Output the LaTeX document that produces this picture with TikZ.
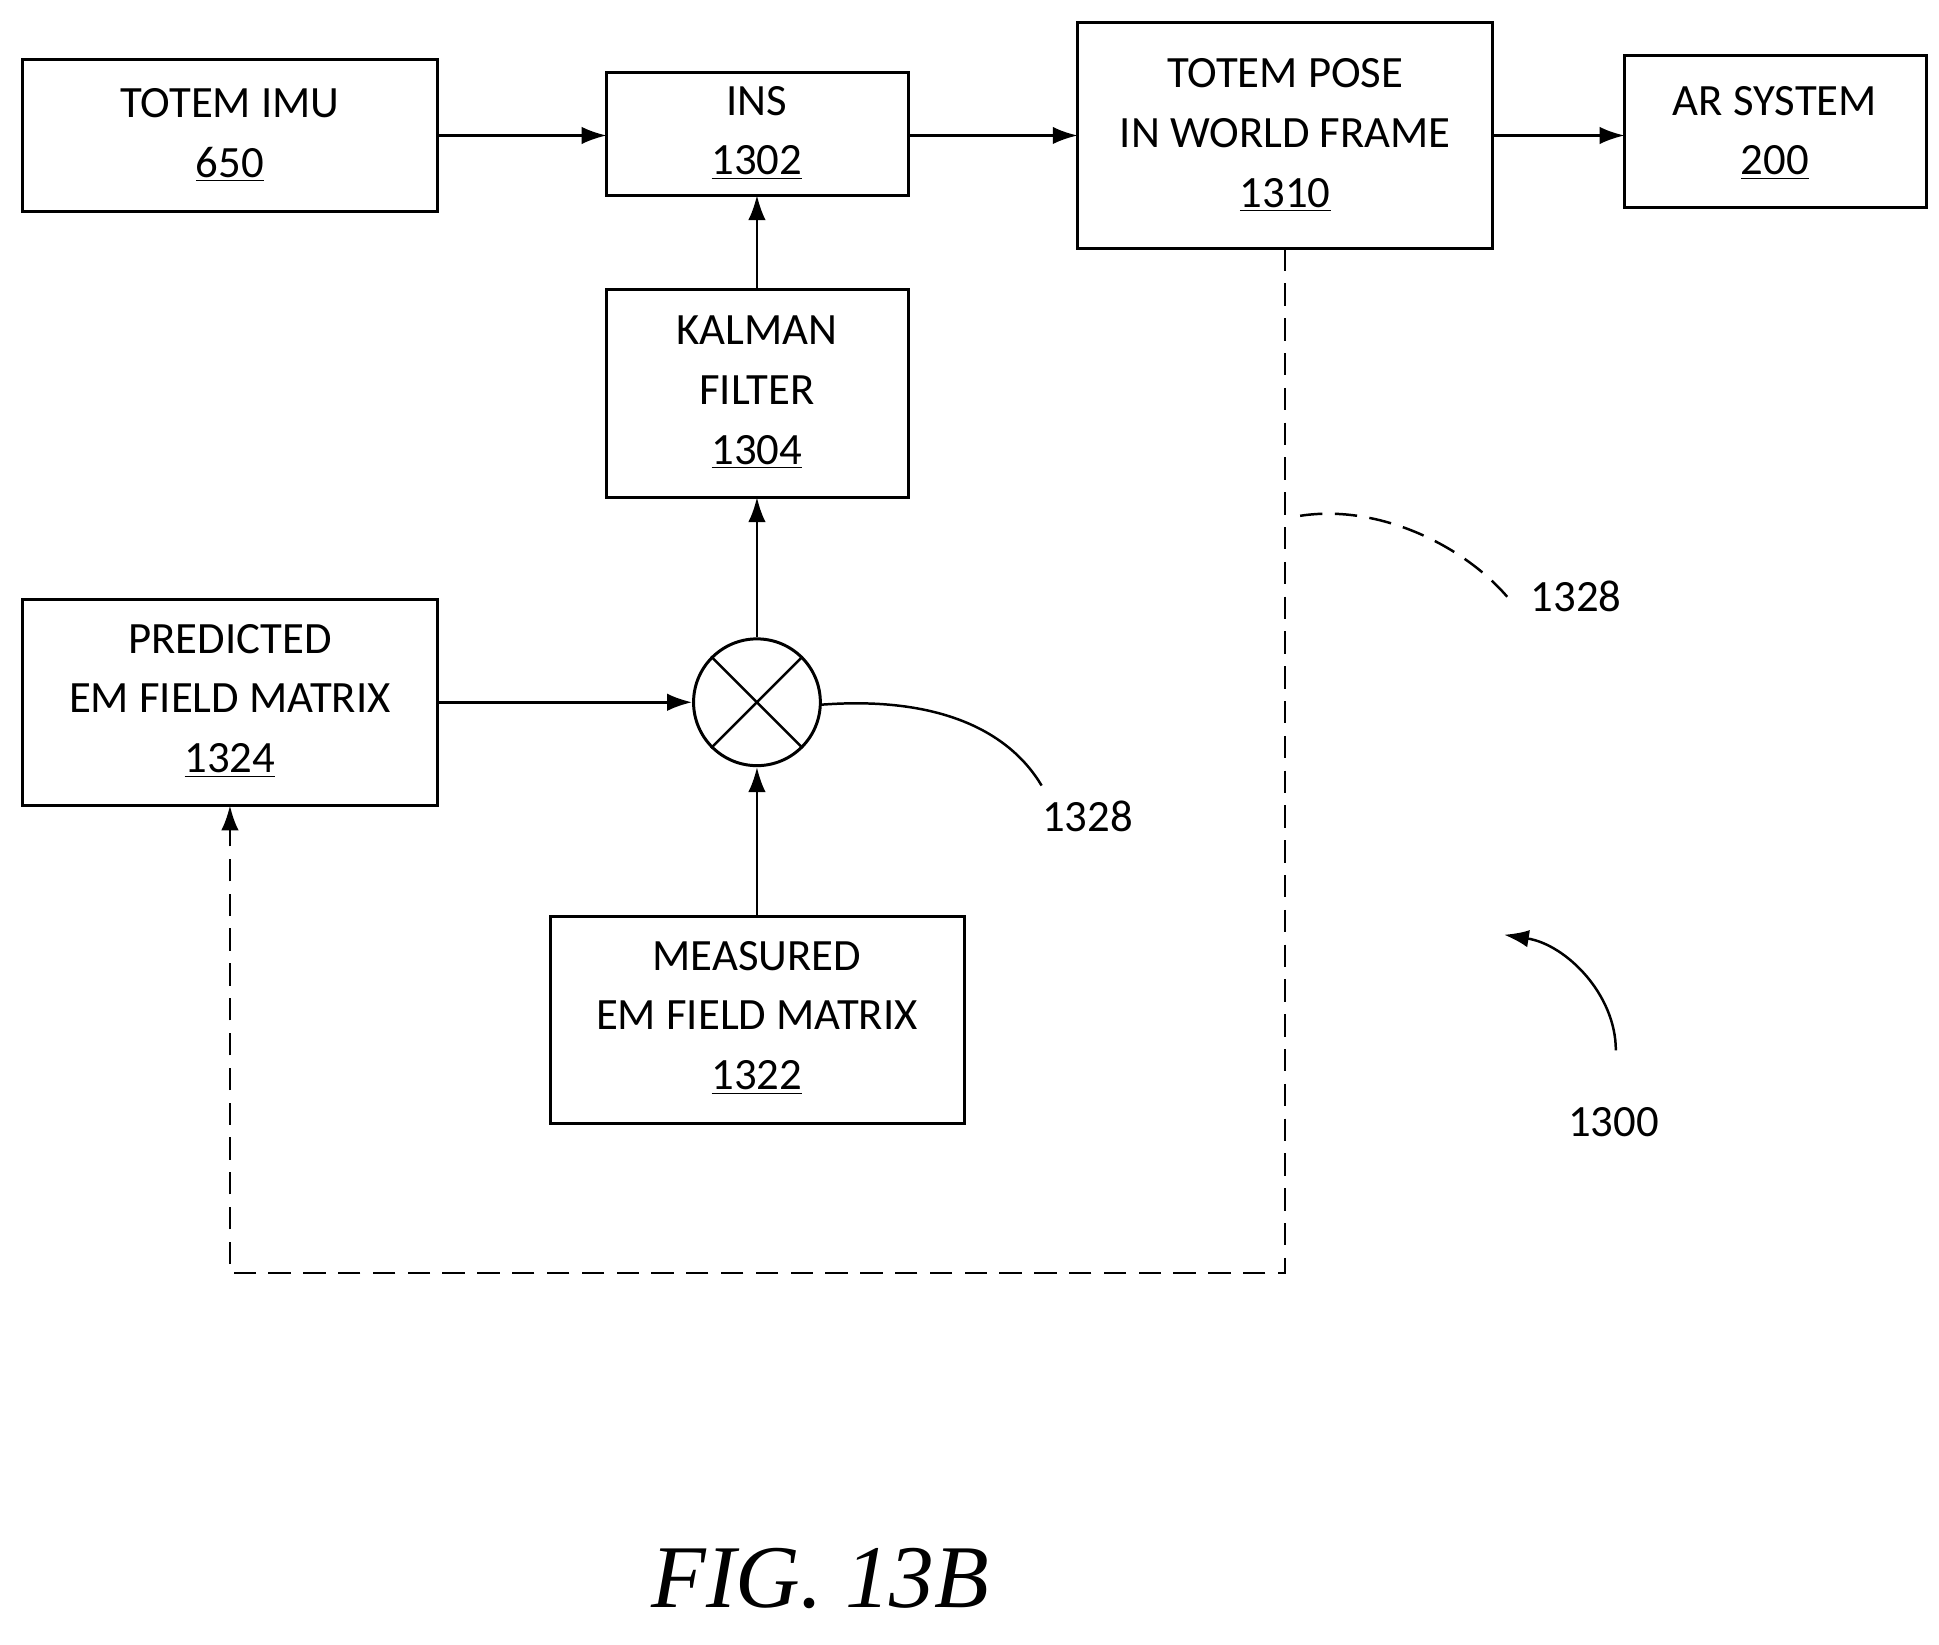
\documentclass[tikz,border=0pt]{standalone}
\usepackage{fontspec}
\setmainfont{Carlito}
\newfontfamily\figfont{Liberation Serif}
\usetikzlibrary{arrows.meta}
\begin{document}
\begin{tikzpicture}[x=0.5pt,y=-0.5pt,
  box/.style={draw,line width=1.2pt,inner sep=0pt},
  txt/.style={align=center,font=\fontsize{18}{24}\selectfont},
  arr/.style={line width=1pt,-{Latex[length=10pt,width=7pt]}},
  dsh/.style={line width=1pt,dash pattern=on 9pt off 5pt}]
\useasboundingbox (0,0) rectangle (1560,1323);
\draw[box] (18,48) rectangle (352,170);
\node[txt] (imu) at (185,109) {TOTEM IMU\\\underline{650}};
\draw[box] (488,58) rectangle (731,157);
\node[txt] (ins) at (609,107) {INS\\\underline{1302}};
\draw[box] (867,18) rectangle (1201,200);
\node[txt] (pose) at (1034,109) {TOTEM POSE\\IN WORLD FRAME\\\underline{1310}};
\draw[box] (1307,45) rectangle (1550,167);
\node[txt] (ar) at (1428,107) {AR SYSTEM\\\underline{200}};
\draw[box] (488,233) rectangle (731,400);
\node[txt] (kal) at (609,316) {KALMAN\\FILTER\\\underline{1304}};
\draw[box] (18,482) rectangle (352,648);
\node[txt] (pred) at (185,564) {PREDICTED\\EM FIELD MATRIX\\\underline{1324}};
\draw[box] (443,737) rectangle (776,904);
\node[txt] (meas) at (609,819) {MEASURED\\EM FIELD MATRIX\\\underline{1322}};
\node[draw,circle,line width=1.2pt,minimum size=51pt,inner sep=0pt] (mix) at (609,565) {};
\draw[line width=1pt] (mix.north west)--(mix.south east) (mix.north east)--(mix.south west);
\coordinate (a1) at (352,109); \coordinate (a2) at (488,109);
\draw[arr] (a1)--(a2);
\coordinate (b1) at (731,109); \coordinate (b2) at (867,109);
\draw[arr] (b1)--(b2);
\coordinate (c1) at (1201,109); \coordinate (c2) at (1307,109);
\draw[arr] (c1)--(c2);
\coordinate (k1) at (609,233); \coordinate (k0) at (609,157);
\draw[arr] (k1)--(k0);
\coordinate (kb) at (609,400);
\draw[arr] (mix.north)--(kb);
\coordinate (p1) at (352,565);
\draw[arr] (p1)--(mix.west);
\coordinate (m1) at (609,737);
\draw[arr] (m1)--(mix.south);
\coordinate (d0) at (1034,200); \coordinate (d1) at (1034,1024);
\coordinate (d2) at (185,1024); \coordinate (d3) at (185,648);
\draw[dsh,-{Latex[length=10pt,width=7pt]}] (d0)--(d1)--(d2)--(d3);
\coordinate (l1) at (660,567); \coordinate (l2) at (838,632);
\draw[line width=1pt] (l1) .. controls (750,560) and (810,585) .. (l2);
\node[txt] (t1) at (875,657) {1328};
\coordinate (l3) at (1046,415); \coordinate (l4) at (1215,483);
\draw[dsh] (l3) .. controls (1110,405) and (1180,440) .. (l4);
\node[txt] (t2) at (1268,480) {1328};
\coordinate (l5) at (1300,845); \coordinate (l6) at (1210,752);
\draw[arr] (l5) .. controls (1300,800) and (1260,760) .. (l6);
\node[txt] (t3) at (1298,903) {1300};
\node[font=\figfont\itshape\fontsize{36}{40}\selectfont] (fig) at (660,1270) {FIG. 13B};
\end{tikzpicture}
\end{document}
